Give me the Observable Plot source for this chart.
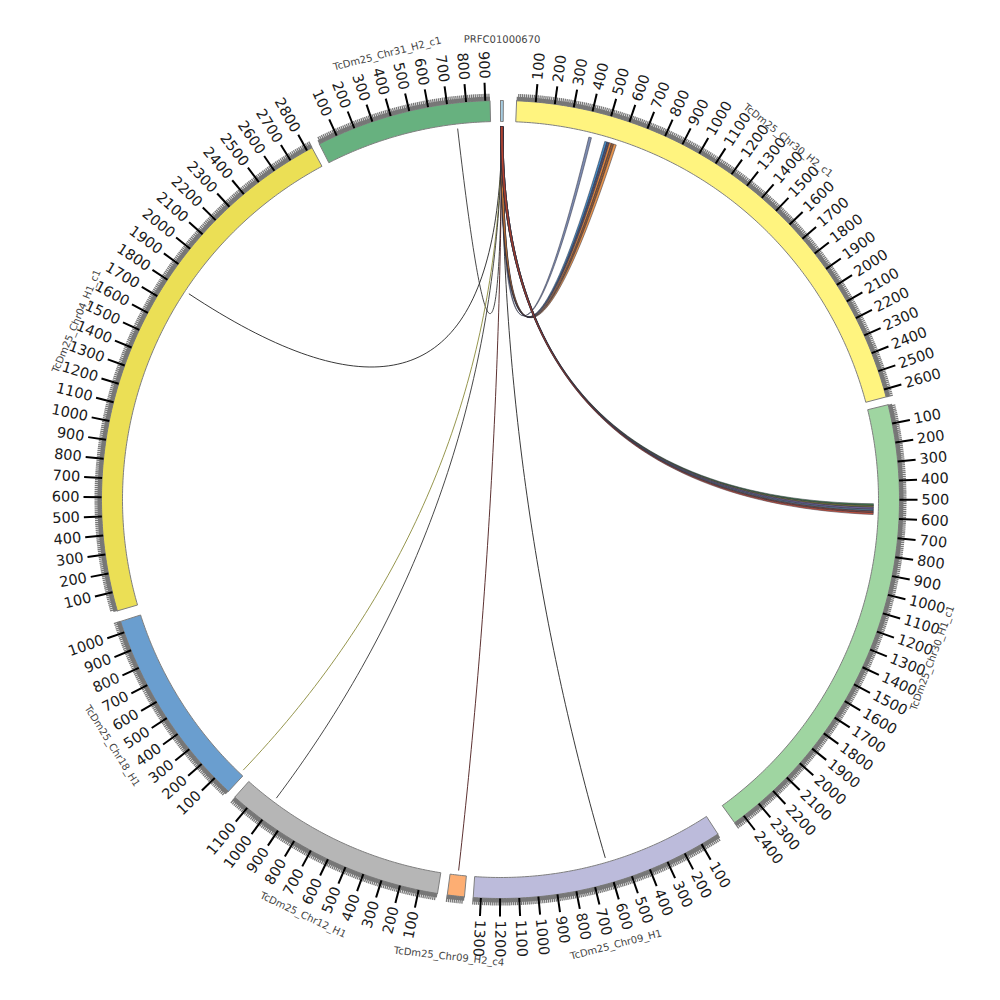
<!DOCTYPE html>
<html>
<head>
<meta charset="utf-8">
<script src="https://cdn.jsdelivr.net/npm/d3@7"></script>
<script src="https://cdn.jsdelivr.net/npm/@observablehq/plot@0.6"></script>
<style>body{margin:0;background:#fff}</style>
</head>
<body>
<div id="chart"></div>
<script>
// ---------------- DATA ----------------
// karyotype (clockwise from the top), lengths in tick units (ticks every 100)
const chromNames = ["PRFC01000670", "TcDm25_Chr30_H2_c1", "TcDm25_Chr30_H1_c1", "TcDm25_Chr09_H1",
  "TcDm25_Chr09_H2_c4", "TcDm25_Chr12_H1", "TcDm25_Chr18_H1", "TcDm25_Chr04_H1_c1", "TcDm25_Chr31_H2_c1"];
const chromLengths = [15, 2640, 2460, 1340, 90, 1185, 1060, 2830, 925];

// links: all from the contig PRFC01000670
const linkTarget = [
  "TcDm25_Chr30_H2_c1", "TcDm25_Chr30_H2_c1", "TcDm25_Chr30_H2_c1", "TcDm25_Chr30_H2_c1", "TcDm25_Chr30_H2_c1", "TcDm25_Chr30_H2_c1",
  "TcDm25_Chr30_H1_c1", "TcDm25_Chr30_H1_c1", "TcDm25_Chr30_H1_c1", "TcDm25_Chr30_H1_c1", "TcDm25_Chr30_H1_c1", "TcDm25_Chr30_H1_c1",
  "TcDm25_Chr31_H2_c1", "TcDm25_Chr04_H1_c1", "TcDm25_Chr18_H1", "TcDm25_Chr12_H1", "TcDm25_Chr09_H2_c4", "TcDm25_Chr09_H1"];
const linkSourceStart = [1, 1, 1, 1, 1, 1, 1, 1, 1, 1, 1, 1, 7, 7, 7, 7, 7, 7];
const linkSourceEnd   = [14, 14, 14, 14, 14, 14, 14, 14, 14, 14, 14, 14, 8, 8, 8, 8, 8, 8];
const linkTargetStart = [413, 505, 518, 531, 544, 557, 522, 532, 542, 552, 562, 572, 740, 1800, 20, 1008, 45, 606];
const linkTargetEnd   = [428, 518, 531, 544, 557, 572, 532, 542, 552, 562, 572, 582, 741, 1801, 21, 1009, 46, 607];

// ---------------- STYLE / LAYOUT ----------------
const chromColors = ["#a6cde2", "#fff47f", "#9fd5a1", "#bcbbdb", "#fdae73", "#b6b6b6", "#6a9ecf", "#ebdf55", "#67b17f"];
const linkColors = ["#6f80a8", "#2f7cbb", "#3b3d5e", "#d9772b", "#8b4a1d", "#e4883a",
  "#2e6b34", "#6b6a2a", "#6a5a9a", "#4c6e8a", "#7a3a2a", "#c8452d",
  "#333333", "#222222", "#8a8a3a", "#333333", "#4a1a1a", "#222222"];
const RIBBON_COUNT = 12;

const DEG_PER_UNIT = 0.02757;
const FIRST_START = 0.0;
const GAPS = [1.9, 1.16, 2.9, 1.26, 1.42, 1.23, 1.58, 1.18];
const R_LINK = 373, R_IN = 378, R_OUT = 399, R_BAND = 403, R_MINOR = 406, R_MAJOR = 417, R_LABEL = 421, R_NAME = 460;
const FLIP_AT = 184;

const rad = d => d * Math.PI / 180;
const px = (r, a) => r * Math.sin(rad(a));
const py = (r, a) => -r * Math.cos(rad(a));

const start = {};
{
  let a = FIRST_START;
  chromNames.forEach((n, i) => { start[n] = a; a += chromLengths[i] * DEG_PER_UNIT + (GAPS[i] ?? 0); });
}
const ang = (n, pos) => start[n] + pos * DEG_PER_UNIT;

function arcPts(r0, r1, a0, a1, id, extra) {
  const N = Math.max(2, Math.ceil(Math.abs(a1 - a0) / 0.4));
  const pts = [];
  for (let k = 0; k <= N; k++) { const t = a0 + (a1 - a0) * k / N; pts.push([px(r1, t), py(r1, t)]); }
  for (let k = N; k >= 0; k--) { const t = a0 + (a1 - a0) * k / N; pts.push([px(r0, t), py(r0, t)]); }
  pts.push(pts[0]);
  return pts.map(p => ({id, x: p[0], y: p[1], ...extra}));
}

// ideograms
const ideo = [];
chromNames.forEach((n, i) => {
  ideo.push(...arcPts(R_IN, R_OUT, ang(n, 0), ang(n, chromLengths[i]), n, {color: chromColors[i]}));
});
// tick bands
const bands = [];
chromNames.forEach((n, i) => {
  if (i === 0) return;
  bands.push(...arcPts(R_OUT, R_BAND, ang(n, 0), ang(n, chromLengths[i]), n, {}));
});

// ticks
const minor = [], major = [], labR = [], labL = [];
chromNames.forEach((n, i) => {
  if (i === 0) return;
  for (let p = 10; p <= chromLengths[i]; p += 10) {
    const a = ang(n, p);
    minor.push({x1: px(R_OUT, a), y1: py(R_OUT, a), x2: px(R_MINOR, a), y2: py(R_MINOR, a)});
    if (p % 100 === 0) {
      major.push({x1: px(R_OUT, a), y1: py(R_OUT, a), x2: px(R_MAJOR, a), y2: py(R_MAJOR, a)});
      const d = {x: px(R_LABEL, a), y: py(R_LABEL, a), label: String(p)};
      if (a < FLIP_AT) labR.push({...d, rot: a - 90}); else labL.push({...d, rot: a + 90});
    }
  }
});

// chromosome names
const names = chromNames.map((n, i) => {
  const a = ang(n, chromLengths[i] / 2);
  let rot = (a > 90 && a < 270) ? a - 180 : (a >= 270 ? a - 360 : a);
  return {x: px(R_NAME, a), y: py(R_NAME, a), label: n, rot};
});

// links (quadratic Bezier through the centre)
const bez = (p0, p2, t) => [(1 - t) * (1 - t) * p0[0] + t * t * p2[0], (1 - t) * (1 - t) * p0[1] + t * t * p2[1]];
const pt = a => [px(R_LINK, a), py(R_LINK, a)];
const ribbons = [], lines = [];
linkTarget.forEach((tg, i) => {
  const s1 = ang(chromNames[0], linkSourceStart[i]), s2 = ang(chromNames[0], linkSourceEnd[i]);
  const t1 = ang(tg, linkTargetStart[i]), t2 = ang(tg, linkTargetEnd[i]);
  const color = linkColors[i];
  if (i < RIBBON_COUNT) {
    const pts = [];
    const arc = (a0, a1) => { for (let k = 0; k <= 4; k++) pts.push(pt(a0 + (a1 - a0) * k / 4)); };
    const curve = (a0, a1) => { const P0 = pt(a0), P2 = pt(a1); for (let k = 1; k < 60; k++) pts.push(bez(P0, P2, k / 60)); };
    arc(s1, s2); curve(s2, t1); arc(t1, t2); curve(t2, s1); pts.push(pts[0]);
    pts.forEach(p => ribbons.push({id: i, x: p[0], y: p[1], color}));
  } else {
    const P0 = pt((s1 + s2) / 2), P2 = pt((t1 + t2) / 2);
    for (let k = 0; k <= 80; k++) { const p = bez(P0, P2, k / 80); lines.push({id: i, x: p[0], y: p[1], color}); }
  }
});

const FONT = "DejaVu Sans";
const chart = Plot.plot({
  width: 1000, height: 1000, margin: 0,
  x: {domain: [-500, 500], range: [0, 1000], axis: null},
  y: {domain: [-499, 501], range: [0, 1000], axis: null},
  color: {type: "identity"},
  style: {fontFamily: FONT, background: "#fff"},
  marks: [
    Plot.line(lines, {x: "x", y: "y", z: "id", stroke: "color", strokeWidth: 0.9, curve: "linear"}),
    Plot.line(ribbons, {x: "x", y: "y", z: "id", fill: "color", fillOpacity: 0.9, stroke: "#2a2a3a", strokeWidth: 0.5, curve: "linear"}),
    Plot.line(ideo, {x: "x", y: "y", z: "id", fill: "color", stroke: "#7f7f7f", strokeWidth: 1, curve: "linear"}),
    Plot.line(bands, {x: "x", y: "y", z: "id", fill: "#777", stroke: "none", curve: "linear"}),
    Plot.link(minor, {x1: "x1", y1: "y1", x2: "x2", y2: "y2", stroke: "#777", strokeWidth: 1.3}),
    Plot.link(major, {x1: "x1", y1: "y1", x2: "x2", y2: "y2", stroke: "#000", strokeWidth: 2}),
    Plot.text(labR, {x: "x", y: "y", text: "label", rotate: "rot", textAnchor: "start", fontSize: 14.5, fill: "#1a1a1a"}),
    Plot.text(labL, {x: "x", y: "y", text: "label", rotate: "rot", textAnchor: "end", fontSize: 14.5, fill: "#1a1a1a"}),
    Plot.text(names, {x: "x", y: "y", text: "label", rotate: "rot", textAnchor: "middle", fontSize: 10, fill: "#444"})
  ]
});
document.getElementById("chart").appendChild(chart);
</script>
</body>
</html>
